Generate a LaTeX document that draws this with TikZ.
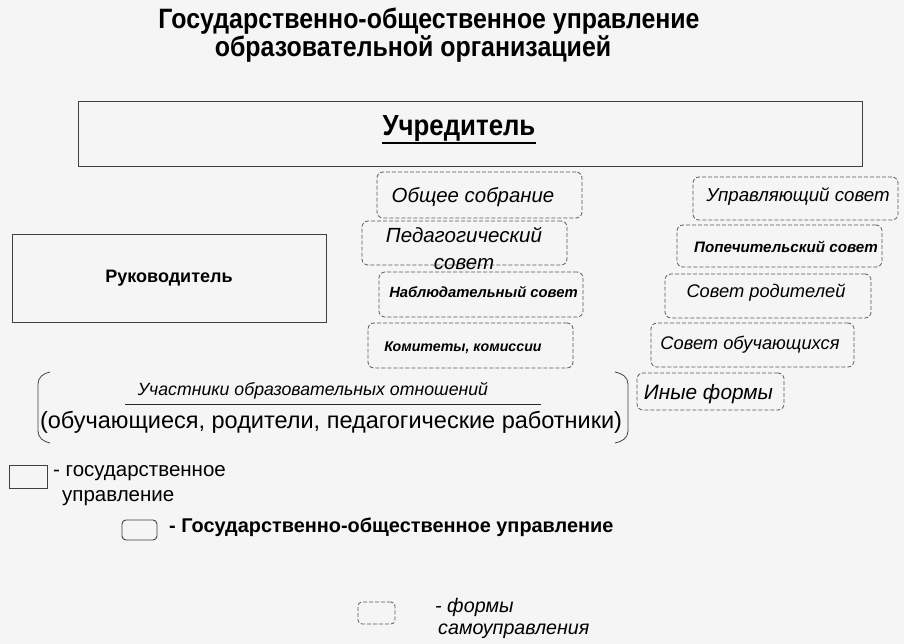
\documentclass[tikz,border=0pt]{standalone}
\usepackage{fontspec}
\setmainfont{Liberation Sans}
\newfontfamily\narrowfont[FakeStretch=0.89]{Liberation Sans}
\begin{document}
\begin{tikzpicture}[x=1pt,y=-1pt,
  solidbox/.style={draw=black!75,line width=0.9pt,inner sep=0pt},
  dbox/.style={draw=black!65,line width=0.8pt,dash pattern=on 4pt off 2pt,rounded corners=6pt,inner sep=0pt},
  txt/.style={inner sep=0pt,align=center},
  lbl/.style={inner sep=0pt,anchor=west}]
\fill[black!4] (0,0) rectangle (904,644);
\useasboundingbox (0,0) rectangle (904,644);
% title
\node[txt,font=\narrowfont\bfseries\fontsize{28}{32}\selectfont] (title1) at (429,21) {Государственно-общественное управление};
\node[txt,font=\narrowfont\bfseries\fontsize{28}{32}\selectfont] (title2) at (413,49) {образовательной организацией};
% founder
\node[solidbox,minimum width=784pt,minimum height=65pt] (found) at (470.5,134) {};
\node[txt,font=\narrowfont\bfseries\fontsize{29}{32}\selectfont] (foundt) at (459,129) {Учредитель};
\draw[line width=1.4pt] ([yshift=-7pt]foundt.base west) -- ([yshift=-7pt]foundt.base east);
% head
\node[solidbox,minimum width=314pt,minimum height=88pt,font=\bfseries\fontsize{18}{21}\selectfont] (head) at (169,278) {Руководитель};
% middle column
\node[dbox,minimum width=205pt,minimum height=46pt] (obs) at (479.5,195) {};
\node[txt,font=\itshape\fontsize{20.4}{24}\selectfont] (obst) at (473,197) {Общее собрание};
\node[dbox,minimum width=205pt,minimum height=44pt] (ped) at (464.5,243) {};
\node[txt,font=\itshape\fontsize{20.5}{27}\selectfont] (pedt) at (464,248.5) {Педагогический\\совет};
\node[dbox,minimum width=204pt,minimum height=45pt] (nab) at (481,294.5) {};
\node[txt,font=\bfseries\itshape\fontsize{14.8}{17}\selectfont] (nabt) at (483.5,292) {Наблюдательный совет};
\node[dbox,minimum width=205pt,minimum height=45pt] (kom) at (470.5,345.5) {};
\node[txt,font=\bfseries\itshape\fontsize{14.2}{17}\selectfont] (komt) at (463,348) {Комитеты, комиссии};
% right column
\node[dbox,minimum width=205pt,minimum height=43pt] (upr) at (795.5,198.5) {};
\node[txt,font=\itshape\fontsize{18.7}{22}\selectfont] (uprt) at (798,197) {Управляющий совет};
\node[dbox,minimum width=205pt,minimum height=42pt] (pop) at (779.5,246) {};
\node[txt,font=\bfseries\itshape\fontsize{15.2}{18}\selectfont] (popt) at (786,247) {Попечительский совет};
\node[dbox,minimum width=206pt,minimum height=44pt] (rod) at (768,296) {};
\node[txt,font=\itshape\fontsize{18.3}{21}\selectfont] (rodt) at (766,293) {Совет родителей};
\node[dbox,minimum width=203pt,minimum height=44pt] (ob) at (752.5,345) {};
\node[txt,font=\itshape\fontsize{18.3}{21}\selectfont] (obt) at (750,345) {Совет обучающихся};
\node[dbox,minimum width=147pt,minimum height=37pt] (in) at (710.5,391.5) {};
\node[txt,font=\itshape\fontsize{20.8}{24}\selectfont] (int) at (708.5,394) {Иные формы};
% participants
\node[txt,font=\itshape\fontsize{17.7}{21}\selectfont] (uch) at (313,391) {Участники образовательных отношений};
\node[txt,font=\fontsize{23.5}{27}\selectfont] (uchl) at (331,422) {(обучающиеся, родители, педагогические работники)};
\coordinate (ula) at (125,404);
\coordinate (ulb) at (541,404);
\draw[line width=1pt,black!85] (ula) -- (ulb);
\coordinate (lb1) at (50,372);
\coordinate (lb2) at (50,443);
\coordinate (rb1) at (615,372);
\coordinate (rb2) at (615,443);
\draw[line width=0.8pt,black!75] (lb1) to[out=190,in=90] (38,384) -- (38,431) to[out=270,in=170] (lb2);
\draw[line width=0.8pt,black!75] (rb1) to[out=-10,in=90] (628,384) -- (628,431) to[out=270,in=10] (rb2);
% legend
\node[solidbox,minimum width=38pt,minimum height=23pt] (lg1) at (28,476.5) {};
\node[lbl,font=\fontsize{20.5}{24}\selectfont] (lg1a) at (53,473) {- государственное};
\node[lbl,font=\fontsize{20.5}{24}\selectfont] (lg1b) at (62,498) {управление};
\node[solidbox,rounded corners=4pt,minimum width=35pt,minimum height=20pt] (lg2) at (139.5,530) {};
\node[lbl,font=\bfseries\fontsize{19.9}{23}\selectfont] (lg2a) at (169,527) {- Государственно-общественное управление};
\node[dbox,rounded corners=4pt,minimum width=37pt,minimum height=22pt] (lg3) at (376.5,613) {};
\node[lbl,font=\itshape\fontsize{19.7}{23}\selectfont] (lg3a) at (435,607) {- формы};
\node[lbl,font=\itshape\fontsize{19.7}{23}\selectfont] (lg3b) at (438,631) {самоуправления};
\end{tikzpicture}
\end{document}
